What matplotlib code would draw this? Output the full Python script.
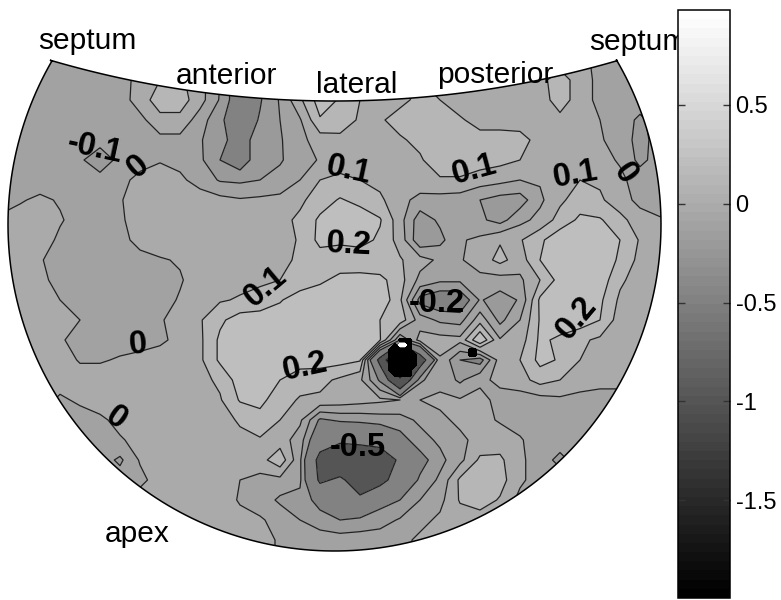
"""
Bull's-eye style contour map with a gray colour bar
"""
import numpy as np
import matplotlib
matplotlib.use("Agg")
import matplotlib.pyplot as plt
from matplotlib.cm import ScalarMappable
from matplotlib.colors import ListedColormap, Normalize
from matplotlib.patches import Polygon

plt.rcParams['font.family'] = ['Liberation Sans', 'DejaVu Sans']

# grid nodes in picture pixels (x 0.01)
grid_x = list(range(0, 700, 20))
grid_y = list(range(40, 580, 20))
z_row_040 = [-5]*7 + [5]*23 + [-5]*5
z_row_060 = [-5]*7 + [5]*23 + [-5]*5
z_row_080 = [-5]*7 + [4, 10, 12, 4, -10, -30, -22, -8, 8, 25, 20, 10, 6, 8, 10, 8, 5, 5, 5, 5, 7, 15, 5, -3, -5, -5, -5, -5]
z_row_100 = [-5]*7 + [5, 15, 15, 4, -11, -30, -21, -9, 8, 25, 19, 10, 6, 8, 12, 10, 6, 5, 5, 5, 5, 15, 5, -3, -5, -5, -5, -5]
z_row_120 = [-5]*7 + [-3, 7, 7, -5, -18, -28, -19, -10, -1, 19, 14, 9, 9, 13, 15, 15, 11, 7, 6, 6, 6, 7, 5, 0, -5, -12, -5, -5]
z_row_140 = [-5]*7 + [-5, -3, -3, -9, -17, -25, -15, -11, -3, 5, 8, 7, 6, 9, 12, 15, 15, 13, 14, 13, 7, 5, 5, 1, -4, -14, -5, -5]
z_row_160 = [-5, -5, -5, -5, -8, -18, -6, -4, -1, -3, -8, -20, -28, -12, -11, -5, 1, 6, 7, 8, 6, 9, 15, 15, 15, 13, 10, 6, 5, 7, 3, -1, -13, -5, -5]
z_row_180 = [-5, -5, -5, -5, -5, -5, -3, 3, 6, 2, -4, -11, -12, -10, -7, 0, 10, 12, 10, 7, 6, 6, 9, 9, 5, 3, 0, 1, 7, 10, 8, 2, -4, -5, -5]
z_row_200 = [-5, -1, 2, -1, -5, -5, -1, 6, 7, 6, 5, 3, 1, 2, 3, 8, 15, 21, 17, 12, 3, -3, -4, -5, -10, -14, -15, -2, 8, 15, 12, 3, -2, -5, -5]
z_row_220 = [2, 4, 4, 1, -4, -4, -2, 6, 7, 7, 7, 7, 7, 7, 7, 12, 22, 27, 26, 21, 4, -16, -8, -2, -8, -14, -3, 3, 14, 22, 21, 14, 3, 1, 1]
z_row_240 = [3, 5, 5, -2, -5, -5, -3, 3, 6, 6, 6, 6, 6, 6, 6, 11, 23, 22, 24, 18, 6, -18, -13, -1, 2, 9, 9, 18, 27, 28, 27, 20, 9, 4, 4]
z_row_260 = [3, 5, 1, -5, -5, -5, -5, -3, -1, 1, 5, 7, 7, 7, 7, 12, 15, 14, 13, 12, 11, 4, -2, -1, 5, 13, 5, 20, 28, 28, 28, 18, 7, 3, 3]
z_row_280 = [3, 5, 3, -4, -5, -5, -5, -5, -3, -1, 5, 7, 7, 8, 10, 13, 18, 23, 24, 23, 14, -3, -8, -8, -3, -4, -2, 10, 24, 26, 26, 12, 5, 3, 3]
z_row_300 = [3, 5, 4, 0, -3, -5, -5, -5, -4, 1, 5, 9, 11, 14, 19, 26, 27, 28, 28, 28, 12, -24, -30, -30, -9, -15, -9, 22, 27, 26, 22, 8, 5, 3, 3]
z_row_320 = [3, 5, 5, 5, 0, -4, -4, -4, -1, 4, 9, 18, 25, 25, 26, 27, 28, 21, 22, 20, 16, -5, -12, -14, 6, -13, 0, 21, 26, 26, 20, 5, 5, 4, 4]
z_row_340 = [3, 5, 5, 1, -3, -4, -4, -4, -2, 3, 8, 22, 28, 28, 28, 28, 28, 25, 22, 21, -20, 4, 4, 3, 30, 1, 5, 22, 18, 12, 8, 5, 4, 3, 3]
z_row_360 = [4, 5, 5, 5, -1, -1, 1, 3, 5, 6, 8, 22, 27, 27, 26, 25, 25, 24, 21, -60, -190, -70, -1, -20, -25, 5, 10, 23, 19, 10, 6, 5, 4, 3, 3]
z_row_380 = [5, 5, 5, 5, 5, 5, 5, 5, 5, 6, 7, 12, 25, 24, 20, 14, 13, 8, 2, -22, -90, -12, -3, -12, -2, 2, 6, 14, 10, 6, 4, 4, 4, 4, 4]
z_row_400 = [5, 5, 5, -2, 2, 5, 5, 5, 5, 5, 5, 9, 21, 23, 14, 9, 8, 6, 4, 2, 0, 0, 2, 1, 3, -3, -5, -4, -2, -4, -5, -5, -5, -5, -5]
z_row_420 = [-5, -5, -5, -5, -5, -2, 3, 5, 5, 5, 5, 7, 11, 16, 10, 2, -22, -18, -17, -15, -14, -8, -2, 2, 3, -1, -4, -5, -5, -5, -5, -5, -5, -5, -5]
z_row_440 = [-5, -5, -5, -5, -5, -6, -1, 3, 5, 5, 5, 5, 8, 9, 5, -5, -35, -45, -42, -38, -25, -14, -8, -2, 3, 5, 1, -5, -5, -5, -5, -5, -5, -5, -5]
z_row_460 = [-5, -5, -5, -5, -5, -5, -12, 1, 5, 5, 5, 5, 5, 6, 17, -8, -60, -75, -75, -70, -45, -25, -13, -3, 12, 12, 2, -5, -13, -5, -5, -5, -5, -5, -5]
z_row_480 = [-5]*7 + [-3, 5, 5, 5, 5, 0, -3, -3, -8, -55, -45, -65, -60, -35, -18, -8, 12, 20, 14, 2] + [-5]*8
z_row_500 = [5]*12 + [-1, -4, -12, -13, -25, -30, -45, -25, -20, -10, -3, 11, 15, 9, -3] + [-5]*8
z_row_520 = [5]*11 + [3, 3, 1, -3, -10, -15, -20, -17, -14, -9, -3, 2, 5, 5, 3] + [3]*9
z_row_540 = [3]*14 + [-1, -5, -5, -5, -5, -5, -3, 2] + [3]*13
z_row_560 = [3]*14 + [-1, -5, -5, -5, -5, -5, -3, 2] + [3]*13

# finer nodes for the black spot with the white core
spot_x = [385, 390, 395, 400, 405, 410, 415, 420]
spot_y = [335, 340, 345, 350, 355, 360, 365, 370, 375, 380]
spot_z = [[0, 0, 0, 0, 0, 0, 0, 0],
          [0, 0, 0, -1.5, -1.5, -1.5, 0, 0],
          [0, 0, -1.5, 0.9, 0.9, -1.5, 0, 0],
          [0, -1.5, -1.5, -1.5, -1.5, -1.5, 0, 0],
          [0, -1.5, -1.5, -1.5, -1.5, -1.5, -1.5, 0],
          [0, -1.5, -1.5, -1.5, -1.5, -1.5, -1.5, 0],
          [0, -1.5, -1.5, -1.5, -1.5, -1.5, -1.5, 0],
          [0, -1.5, -1.5, -1.5, -1.5, -1.5, 0, 0],
          [0, 0, -1.5, -1.5, -1.5, -1.5, 0, 0],
          [0, 0, 0, 0, 0, 0, 0, 0]]
# and for the small black spot on the posterior side
spot2_x = [460, 465, 470, 475, 480]
spot2_y = [345, 350, 355, 360, 365]
spot2_z = [[0, 0, 0, 0, 0],
           [0, 0, -1.5, -1.5, 0],
           [0, 0, -1.5, -1.5, 0],
           [0, 0, 0, 0, 0],
           [0, 0, 0, 0, 0]]

contour_levels = [-2, -1, -0.5, -0.2, -0.1, 0, 0.1, 0.2, 0.5, 1]
cbar_ticks = [-1.5, -1, -0.5, 0, 0.5]

z = np.array([z_row_040, z_row_060, z_row_080, z_row_100, z_row_120, z_row_140, z_row_160,
              z_row_180, z_row_200, z_row_220, z_row_240, z_row_260, z_row_280, z_row_300,
              z_row_320, z_row_340, z_row_360, z_row_380, z_row_400, z_row_420, z_row_440,
              z_row_460, z_row_480, z_row_500, z_row_520, z_row_540, z_row_560]) / 100.0

fig = plt.figure(figsize=(7.81, 6.0), dpi=100)
ax = fig.add_axes([0, 0, 1, 1])
ax.set_xlim(0, 781)
ax.set_ylim(600, 0)
ax.axis('off')

# 64 step gray map, each band takes the colour of its lower level
gray64 = ListedColormap(plt.get_cmap('gray')(np.linspace(0, 1, 64)))
norm = Normalize(vmin=-1.995, vmax=0.98)
band_colors = [gray64(norm(v)) for v in contour_levels[:-1]]

# fan outline: outer circle and shallow top arc
cx, cy, r_out = 334.5, 224.5, 326.5
top_cy, r_top = -910.0, 1011.0
a_start = np.arctan2(60 - cy, 50 - cx)
a_end = np.arctan2(59 - cy, 617 - cx)
ang = np.linspace(a_end, a_start + 2 * np.pi, 200)
outer = np.column_stack([cx + r_out * np.cos(ang), cy + r_out * np.sin(ang)])
top_x = np.linspace(50, 617, 100)
top_y = top_cy + np.sqrt(r_top ** 2 - (top_x - cx) ** 2)
fan = np.vstack([outer, np.column_stack([top_x, top_y])])
fan_patch = Polygon(fan, closed=True, facecolor='none', edgecolor='black', linewidth=1.1, zorder=3)
ax.add_patch(fan_patch)

cf = ax.contourf(grid_x, grid_y, z, levels=contour_levels, colors=band_colors, zorder=1)
cl = ax.contour(grid_x, grid_y, z, levels=contour_levels, colors='#222222', linewidths=0.9,
                negative_linestyles='solid', zorder=2)
cf.set_clip_path(fan_patch)
cl.set_clip_path(fan_patch)

ax.contourf(spot_x, spot_y, spot_z, levels=[-2, -1], colors='black', zorder=2.5)
ax.contourf(spot_x, spot_y, spot_z, levels=[0.4, 1], colors='white', zorder=2.6)
ax.contourf(spot2_x, spot2_y, spot2_z, levels=[-2, -1], colors='black', zorder=2.5)

# region names
for label, x, y in [('septum', 87, 41), ('anterior', 226, 76), ('lateral', 357, 85),
                    ('posterior', 495, 75), ('septum', 638, 42), ('apex', 137, 534)]:
    ax.text(x, y, label, fontsize=21.5, ha='center', va='center', color='black', zorder=4)

# contour labels
for label, x, y, rot in [('-0.1', 95, 149, -12), ('0', 138, 167, 40), ('0.1', 349, 170, -12),
                         ('0.2', 349, 245, -3), ('0.1', 474, 170, 15), ('0.1', 576, 175, 10),
                         ('0', 625, 174, -55), ('0.1', 266, 287, 40), ('-0.2', 437, 303, 0),
                         ('0.2', 305, 367, 12), ('0.2', 577, 318, 50), ('0', 138, 345, 5),
                         ('0', 116, 418, -35), ('-0.5', 358, 447, 0)]:
    ax.text(x, y, label, fontsize=23.5, fontweight='bold', ha='center', va='center',
            rotation=rot, rotation_mode='anchor', color='black', zorder=5)

# colour bar sits over the second septum label
cax = fig.add_axes([678 / 781, 2 / 600, 52 / 781, 588 / 600], zorder=10)
cb = fig.colorbar(ScalarMappable(norm=norm, cmap=gray64), cax=cax, ticks=cbar_ticks)
cb.ax.set_yticklabels(['-1.5', '-1', '-0.5', '0', '0.5'])
cb.ax.tick_params(direction='in', left=True, right=True, length=5, width=1, labelsize=17, pad=4, color='#333333')
cb.outline.set_linewidth(1.1)

plt.savefig('out.png', dpi=100)
